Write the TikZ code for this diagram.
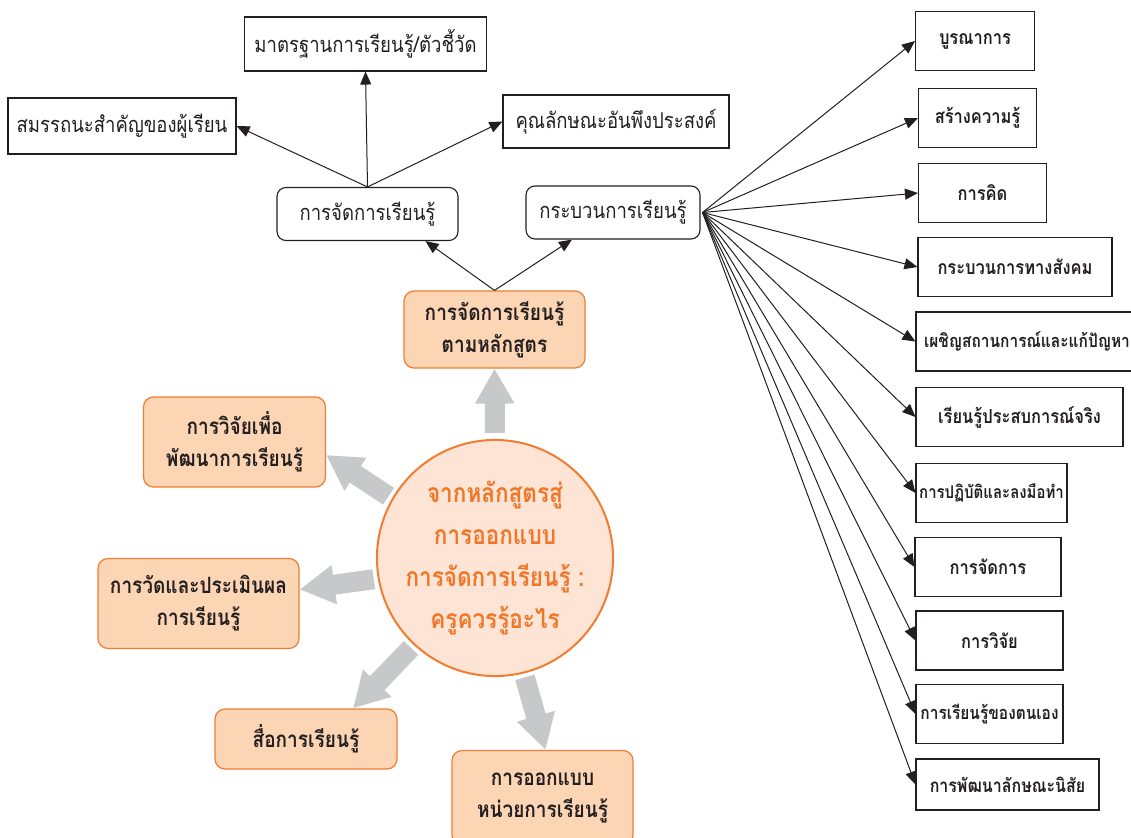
\documentclass[tikz,border=0pt]{standalone}
\usepackage{fontspec}
\setmainfont[Script=Thai,FakeStretch=0.85]{Loma}
\usetikzlibrary{arrows.meta}

\definecolor{lineorange}{RGB}{240,125,50}
\definecolor{fillorange}{RGB}{252,213,180}
\definecolor{fillhub}{RGB}{253,228,212}
\definecolor{textorange}{RGB}{240,118,40}
\definecolor{arrowgray}{RGB}{199,200,202}
\definecolor{inkgray}{RGB}{35,31,32}

\tikzset{
	thin box/.style={
		draw=inkgray,
		line width=1.1pt,
		inner sep=0pt,
		text=inkgray,
		font=\fontsize{21.8}{26}\selectfont
	},
	round box/.style={
		thin box,
		rounded corners=9pt
	},
	list box/.style={
		draw=inkgray,
		line width=1.1pt,
		inner sep=0pt,
		minimum height=59,
		text=inkgray,
		font=\bfseries\fontsize{19.4}{23}\selectfont
	},
	orange box/.style={
		draw=lineorange,
		fill=fillorange,
		line width=1.2pt,
		rounded corners=10pt,
		inner sep=0pt,
		align=center,
		text=inkgray,
		font=\bfseries\fontsize{22.4}{32}\selectfont
	},
	thin arrow/.style={
		draw=inkgray,
		line width=1pt,
		-{Triangle[length=13pt,width=11pt]}
	},
	gray arrow/.style={
		draw=arrowgray,
		line width=20pt,
		-{Triangle[length=35pt,width=37pt]}
	}
}

\begin{document}
\begin{tikzpicture}[x=1pt,y=-1pt]

\useasboundingbox (0,0) rectangle (1131,837);

% outcomes of the curriculum
\node[thin box, minimum width=242, minimum height=54] (std)  at (365.5,44)  {มาตรฐานการเรียนรู้/ตัวชี้วัด};
\node[thin box, minimum width=228, minimum height=56] (comp) at (122,126)   {สมรรถนะสำคัญของผู้เรียน};
\node[thin box, minimum width=226, minimum height=53] (attr) at (616,121.5) {คุณลักษณะอันพึงประสงค์};

\node[round box, minimum width=181, minimum height=53] (lm) at (367.5,214) {การจัดการเรียนรู้};
\node[round box, minimum width=174, minimum height=53] (lp) at (613,212.5) {กระบวนการเรียนรู้};

\draw[thin arrow] (lm.north) -> (std.south);
\draw[thin arrow] (lm.north) -> (comp.east);
\draw[thin arrow] (lm.north) -> (attr.west);

% the orange ring
\node[orange box, minimum width=181, minimum height=77] (cur)   at (494.5,329.5) {การจัดการเรียนรู้\\ตามหลักสูตร};
\node[orange box, minimum width=182, minimum height=90] (res)   at (234.5,442)   {การวิจัยเพื่อ\\พัฒนาการเรียนรู้};
\node[orange box, minimum width=201, minimum height=90] (eval)  at (198.5,603.5) {การวัดและประเมินผล\\การเรียนรู้};
\node[orange box, minimum width=182, minimum height=60] (media) at (306,739)     {สื่อการเรียนรู้};
\node[orange box, minimum width=181, minimum height=95] (unit)  at (542.5,798)   {การออกแบบ\\หน่วยการเรียนรู้};

\node[circle, draw=lineorange, fill=fillhub, line width=2pt, minimum size=236,
	inner sep=0pt, align=center, text=textorange,
	font=\bfseries\fontsize{26.5}{42}\selectfont] (hub) at (495,558)
	{จากหลักสูตรสู่\\การออกแบบ\\การจัดการเรียนรู้ :\\ครูควรรู้อะไร};

\draw[gray arrow, shorten <=6pt] (hub.90)  -> (cur.south);
\draw[gray arrow, shorten <=4pt] (hub.150) -> ([yshift=-13pt]res.east);
\draw[gray arrow, shorten <=4pt] (hub.190) -> ([yshift=14pt]eval.east);
\draw[gray arrow, shorten <=4pt] (hub.227) -> ([xshift=47pt]media.north);
\draw[gray arrow, shorten <=4pt] (hub.284) -> ([xshift=3pt]unit.north);

\draw[thin arrow] (cur.north) -> ([xshift=58pt]lm.south);
\draw[thin arrow] (cur.north) -> ([xshift=-41pt]lp.south);

% kinds of learning process
\node[list box, minimum width=119] (r1)  at (975,41)     {บูรณาการ};
\node[list box, minimum width=118] (r2)  at (977.5,118)  {สร้างความรู้};
\node[list box, minimum width=128] (r3)  at (982.5,193)  {การคิด};
\node[list box, minimum width=194] (r4)  at (1015,267)   {กระบวนการทางสังคม};
\node[list box, minimum width=222, font=\bfseries\fontsize{18.2}{23}\selectfont]
	(r5)  at (1027,341.5) {เผชิญสถานการณ์และแก้ปัญหา};
\node[list box, minimum width=207] (r6)  at (1019.5,417) {เรียนรู้ประสบการณ์จริง};
\node[list box, minimum width=151, font=\bfseries\fontsize{17.6}{23}\selectfont]
	(r7)  at (991.5,493)  {การปฏิบัติและลงมือทำ};
\node[list box, minimum width=146] (r8)  at (988,567)    {การจัดการ};
\node[list box, minimum width=147] (r9)  at (989.5,640.5) {การวิจัย};
\node[list box, minimum width=147, font=\bfseries\fontsize{18.2}{23}\selectfont]
	(r10) at (989.5,714)  {การเรียนรู้ของตนเอง};
\node[list box, minimum width=183, minimum height=51, font=\bfseries\fontsize{18.8}{23}\selectfont]
	(r11) at (1007.5,784.5) {การพัฒนาลักษณะนิสัย};

\foreach \i in {1,...,11}
	\draw[thin arrow] ([xshift=2pt]lp.east) -> (r\i.west);

\end{tikzpicture}
\end{document}
